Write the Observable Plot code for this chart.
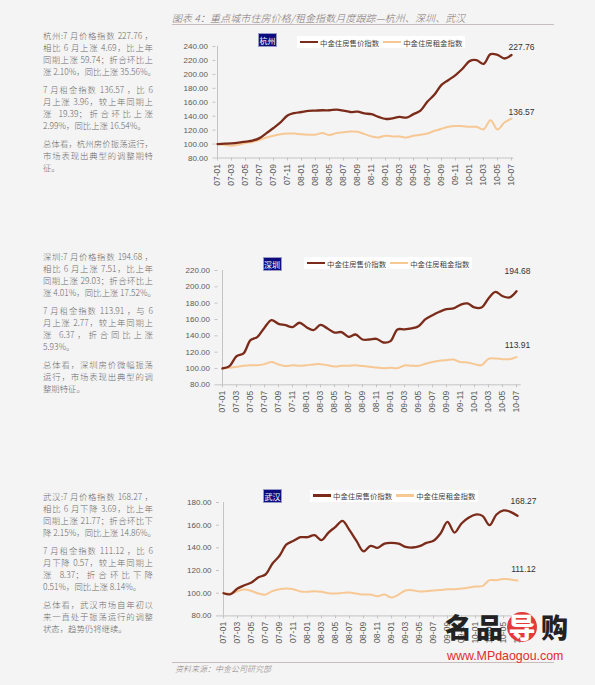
<!DOCTYPE html>
<html><head><meta charset="utf-8">
<script src="https://cdn.jsdelivr.net/npm/d3@7"></script>
<script src="https://cdn.jsdelivr.net/npm/@observablehq/plot@0.6"></script>
<style>
html,body{margin:0;padding:0;}
body{width:595px;height:685px;overflow:hidden;background:#f4f4f4;position:relative;font-family:"Noto Sans CJK SC","Noto Sans",sans-serif;}
.abs{position:absolute;}
.title{left:172px;top:10px;font-size:10px;font-style:italic;font-weight:300;color:#807373;white-space:nowrap;letter-spacing:0.1px;}
.hr{height:1px;background:#c9bcbc;left:172px;width:382px;}
.txt{left:43px;width:110px;font-size:8.4px;color:#6a6a6a;font-weight:300;}
.txt .p{margin-bottom:6px;}
.txt .ln{height:12px;line-height:12px;white-space:nowrap;text-align:justify;text-align-last:justify;}
.txt .ln.e{text-align-last:left;}
.city{background:#0c0c7e;color:#fff;font-size:8px;width:19px;height:14px;line-height:14px;text-align:center;border:0.5px solid #9a9ac8;box-sizing:border-box;}
.leg{background:#fff;height:12px;display:flex;align-items:center;font-size:7.4px;color:#444;white-space:nowrap;}
.leg .s{display:inline-block;width:18px;height:2.4px;margin:0 2px 0 3px;}
.src{left:175px;top:663px;font-size:8px;font-style:italic;font-weight:300;color:#8a8080;}
.wm{left:445px;top:609px;height:36px;font-size:27px;font-weight:900;color:#222;letter-spacing:4px;white-space:nowrap;line-height:36px;}
.wm .r{display:inline-block;background:#e33a3a;color:#fff;border-radius:50%;width:30px;height:30px;line-height:30px;text-align:center;letter-spacing:0;margin-right:4px;}
.url{left:447px;top:650px;font-size:12.4px;line-height:12px;color:#e02d2d;font-family:"Liberation Sans",Arial,sans-serif;white-space:nowrap;}
</style></head>
<body>
<div class="abs title">图表 4：重点城市住房价格/租金指数月度跟踪—杭州、深圳、武汉</div>
<div class="abs hr" style="top:24px"></div>

<div class="abs txt" style="top:29px">
 <div class="p"><div class="ln">杭州:7 月价格指数 227.76 ，</div><div class="ln">相比 6 月上涨 4.69，比上年</div><div class="ln">同期上涨 59.74；折合环比上</div><div class="ln">涨 2.10%，同比上涨 35.56%。</div></div>
 <div class="p"><div class="ln">7 月租金指数 136.57 ，比 6</div><div class="ln">月上涨 3.96，较上年同期上</div><div class="ln">涨 19.39；折合环比上涨</div><div class="ln e">2.99%，同比上涨 16.54%。</div></div>
 <div class="p"><div class="ln">总体看，杭州房价振荡运行，</div><div class="ln">市场表现出典型的调整期特</div><div class="ln e">征。</div></div>
</div>
<div class="abs txt" style="top:250px">
 <div class="p"><div class="ln">深圳:7 月价格指数 194.68 ，</div><div class="ln">相比 6 月上涨 7.51，比上年</div><div class="ln">同期上涨 29.03；折合环比上</div><div class="ln">涨 4.01%，同比上涨 17.52%。</div></div>
 <div class="p"><div class="ln">7 月租金指数 113.91 ，与 6</div><div class="ln">月上涨 2.77，较上年同期上</div><div class="ln">涨 6.37，折合同比上涨</div><div class="ln e">5.93%。</div></div>
 <div class="p"><div class="ln">总体看，深圳房价微幅振荡</div><div class="ln">运行，市场表现出典型的调</div><div class="ln e">整期特征。</div></div>
</div>
<div class="abs txt" style="top:490px">
 <div class="p"><div class="ln">武汉:7 月价格指数 168.27 ，</div><div class="ln">相比 6 月下降 3.69，比上年</div><div class="ln">同期上涨 21.77；折合环比下</div><div class="ln">降 2.15%，同比上涨 14.86%。</div></div>
 <div class="p"><div class="ln">7 月租金指数 111.12 ，比 6</div><div class="ln">月下降 0.57，较上年同期上</div><div class="ln">涨 8.37；折合环比下降</div><div class="ln e">0.51%，同比上涨 8.14%。</div></div>
 <div class="p"><div class="ln">总体看，武汉市场自年初以</div><div class="ln">来一直处于振荡运行的调整</div><div class="ln e">状态，趋势仍将继续。</div></div>
</div>

<div id="charts"></div>

<div class="abs hr" style="top:662px"></div>
<div class="abs src">资料来源：中金公司研究部</div>
<div class="abs wm">名品<span class="r">导</span>购</div>
<div class="abs url">www.MPdaogou.com</div>

<script>
const months = ["07-01","07-02","07-03","07-04","07-05","07-06","07-07","07-08","07-09","07-10","07-11","07-12",
"08-01","08-02","08-03","08-04","08-05","08-06","08-07","08-08","08-09","08-10","08-11","08-12",
"09-01","09-02","09-03","09-04","09-05","09-06","09-07","09-08","09-09","09-10","09-11","09-12",
"10-01","10-02","10-03","10-04","10-05","10-06","10-07"];
const xTicks = ["07-01","07-03","07-05","07-07","07-09","07-11","08-01","08-03","08-05","08-07","08-09","08-11",
"09-01","09-03","09-05","09-07","09-09","09-11","10-01","10-03","10-05","10-07"];
const seriesNames = ["中金住房售价指数","中金住房租金指数"];

const hzPrice = [100,100.5,101,102,103.5,105,108.5,115.7,123,131,141,144.5,146,147.5,148,148.5,148.5,149.5,148,146,146.5,144,142.8,139,136,137,139,138,143,148,161,171,185,192,199,208,219,220.5,215,229,228,222.8,227.76];
const hzRent = [100,98.6,97.6,99,101.4,103,106,109.5,112,114,115,115.2,114,113.5,113.5,115.7,113,115.7,117,118,117.6,114.3,111,109.5,112,111,111,109.5,112,113.3,115.2,119,122,124.8,126,125.7,124.8,124.8,121,134.3,121,131,136.57];
const szPrice = [100,102.9,115,118.4,134.7,138.8,150,159.2,154.7,153,150.6,156,150.6,147,153.5,149,144,144.5,138.8,141.6,135.5,135.5,136.3,131.8,133.5,147.8,147.8,149,151.8,160.4,165.3,169.4,172.6,173.5,178,179.6,174.7,174.7,185.7,193.9,188.6,187,194.68];
const szRent = [100,100.8,102,103.3,104,104,105.3,107.8,104.9,102.9,104,103.3,104,104.9,105.3,104,102.4,103.3,103.3,104,102.9,102,101.2,100.4,100.8,100.4,103.7,103.3,103.3,105.7,107.8,109.4,110.2,111,107.8,107.3,105.3,104,111.8,112.2,111.4,111.4,113.91];
const whPrice = [100,99.1,104.1,107,109.4,114,116.5,126.2,133,143,146.2,149.4,149.4,151.2,146.8,153.5,158.5,163.8,155.6,146.2,137,141.8,140,143.8,144.4,143.8,140.9,140.3,141.5,144.4,146.2,152.6,162.9,153.5,161.5,166.5,169.4,168.2,160,169.4,173,171.8,168.27];
const whRent = [100,99.7,101.8,103.2,102,99.7,98.8,101.8,103.5,104.1,103.5,101.5,101.2,101.8,101.2,100,99.7,100.3,100.6,99.7,98.8,98.8,97.4,98.8,96.2,98.8,102.4,102.6,101.5,101.8,102.4,102.9,103.5,103.5,104.1,105,105.9,106.2,111.5,111.5,112.6,112.1,111.12];

const hzTicks = [80,100,120,140,160,180,200,220,240];
const szTicks = [80,100,120,140,160,180,200,220];
const whTicks = [80,100,120,140,160,180];

const panels = [
  {city:"杭州", price:hzPrice, rent:hzRent, yt:hzTicks, x0:215.5, x1:513.3, yTop:45.5, yBot:157,
   cityPos:[258,33], legPos:[297,36], pdx:10, pdy:-8, rdx:10, rdy:-6},
  {city:"深圳", price:szPrice, rent:szRent, yt:szTicks, x0:217.5, x1:520.7, yTop:270, yBot:384.3,
   cityPos:[262.5,256.5], legPos:[304,257], pdx:1, pdy:-20, rdx:1, rdy:-12},
  {city:"武汉", price:whPrice, rent:whRent, yt:whTicks, x0:219, x1:520.7, yTop:502.3, yBot:615.7,
   cityPos:[263,488.5], legPos:[310,489.5], pdx:6, pdy:-15, rdx:6, rdy:-11}
];

const DARK = "#7a2b19", LIGHT = "#f7c894", AX = "#c4c4c4";
const fmt = d3.format(".2f");
const host = document.getElementById("charts");

for (const p of panels) {
  const L = 160, W = 400, mt = 15, mb = 36;
  const T = p.yTop - mt;
  const H = (p.yBot - p.yTop) + mt + mb;
  const price = months.map((m,i)=>({m, v:p.price[i]}));
  const rent = months.map((m,i)=>({m, v:p.rent[i]}));
  const yMin = p.yt[0], yMax = p.yt[p.yt.length-1];
  const chart = Plot.plot({
    width: W, height: H,
    marginLeft: p.x0 - L, marginRight: W - (p.x1 - L), marginTop: mt, marginBottom: mb,
    style: {background:"transparent", fontFamily:"'Liberation Sans', Arial, sans-serif", fontSize:"8px", color:"#555", overflow:"visible"},
    x: {type:"point", domain: months, padding: 0, label: null},
    y: {domain:[yMin, yMax], label: null},
    marks: [
      Plot.ruleX([months[0]], {stroke: AX}),
      Plot.ruleY([yMin], {stroke: AX}),
      Plot.axisY({ticks: p.yt, tickFormat: fmt, tickSize: 3, tickPadding: 5, stroke: AX, fill: "#5a5a5a", fontSize: 8}),
      Plot.axisX({ticks: xTicks, tickRotate: -90, tickSize: 3, tickPadding: 3, stroke: AX, fill: "#5a5a5a", fontSize: 8.5}),
      Plot.line(rent, {x:"m", y:"v", stroke: LIGHT, strokeWidth: 2, curve: "catmull-rom"}),
      Plot.line(price, {x:"m", y:"v", stroke: DARK, strokeWidth: 2.3, curve: "catmull-rom"}),
      Plot.text([price[price.length-1]], {x:"m", y:"v", text: d=>fmt(d.v), dx: p.pdx, dy: p.pdy, fill:"#333", fontSize: 8.5}),
      Plot.text([rent[rent.length-1]], {x:"m", y:"v", text: d=>fmt(d.v), dx: p.rdx, dy: p.rdy, fill:"#333", fontSize: 8.5})
    ]
  });
  chart.style.position = "absolute";
  chart.style.left = L + "px";
  chart.style.top = T + "px";
  host.appendChild(chart);

  const c = document.createElement("div");
  c.className = "abs city";
  c.style.left = p.cityPos[0] + "px"; c.style.top = p.cityPos[1] + "px";
  c.textContent = p.city;
  host.appendChild(c);

  const lg = document.createElement("div");
  lg.className = "abs leg";
  lg.style.left = p.legPos[0] + "px"; lg.style.top = p.legPos[1] + "px";
  lg.innerHTML = `<span class="s" style="background:${DARK}"></span><span>${seriesNames[0]}</span>` +
                 `<span class="s" style="background:${LIGHT};margin-left:4px"></span><span style="margin-right:3px">${seriesNames[1]}</span>`;
  host.appendChild(lg);
}
</script>
</body></html>
